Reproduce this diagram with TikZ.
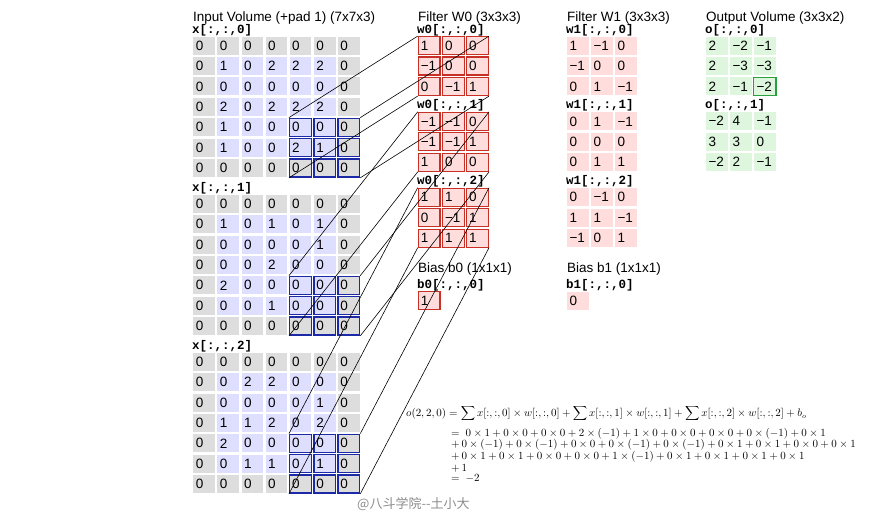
\documentclass[tikz,border=0pt]{standalone}
\usepackage[no-math]{fontspec}
\setmainfont{Liberation Sans}
\setmonofont{Liberation Mono}
\newfontfamily\cjkfont{Noto Sans CJK SC}
\definecolor{padgray}{RGB}{221,221,221}
\definecolor{inlav}{RGB}{222,222,255}
\definecolor{wpink}{RGB}{255,221,221}
\definecolor{wred}{RGB}{200,48,38}
\definecolor{xblue}{RGB}{28,42,168}
\definecolor{ogreen}{RGB}{222,246,222}
\definecolor{oline}{RGB}{40,160,60}
\begin{document}
\begin{tikzpicture}[
    x=1pt, y=-1pt,
    cell/.style={minimum width=21.7pt, minimum height=18pt, inner xsep=2.5pt,
      inner ysep=0pt, text width=16.7pt, align=left,
      font=\fontsize{13.5}{16}\selectfont},
    xcell/.style={cell, fill=padgray},
    wcell/.style={cell, fill=wpink, draw=wred, line width=1.2pt},
    vcell/.style={cell, fill=wpink},
    ocell/.style={cell, fill=ogreen},
    ttl/.style={anchor=base west, inner sep=0pt, font=\fontsize{13.5}{16}\selectfont},
    lbl/.style={anchor=base west, inner sep=0pt, font=\fontsize{12.5}{15}\ttfamily\bfseries},
    eq/.style={anchor=base west, inner sep=0pt, font=\fontsize{10.6}{12}\selectfont},
    link/.style={line width=0.6pt}
  ]
  \useasboundingbox (0,0) rectangle (876,516);

  % titles
  \node[ttl] (tx) at (193,21.5) {Input Volume (+pad 1) (7x7x3)};
  \node[ttl] (tw0) at (418,21.5) {Filter W0 (3x3x3)};
  \node[ttl] (tw1) at (567,21.5) {Filter W1 (3x3x3)};
  \node[ttl] (to) at (706,21.5) {Output Volume (3x3x2)};

  % input volume
  \foreach \xrows [count=\b from 0] in {
      {{0,0,0,0,0,0,0},{0,1,0,2,2,2,0},{0,0,0,0,0,0,0},{0,2,0,2,2,2,0},
       {0,1,0,0,0,0,0},{0,1,0,0,2,1,0},{0,0,0,0,0,0,0}},
      {{0,0,0,0,0,0,0},{0,1,0,1,0,1,0},{0,0,0,0,0,1,0},{0,0,0,2,0,0,0},
       {0,2,0,0,0,0,0},{0,0,0,1,0,0,0},{0,0,0,0,0,0,0}},
      {{0,0,0,0,0,0,0},{0,0,2,2,0,0,0},{0,0,0,0,0,1,0},{0,1,1,2,0,2,0},
       {0,2,0,0,0,0,0},{0,0,1,1,0,1,0},{0,0,0,0,0,0,0}}}{
    \pgfmathsetmacro\ytop{36.7+158*\b}
    \node[lbl] (xl\b) at (192,\ytop-3.5) {x[:,:,\b]};
    \foreach \xrow [count=\i from 0] in \xrows {
      \foreach \v [count=\j from 0] in \xrow {
        \pgfmathtruncatemacro\pad{or(or(\i==0,\i==6),or(\j==0,\j==6))}
        \pgfmathtruncatemacro\hl{and(\i>3,\j>3)}
        \ifnum\pad=1 \tikzset{xfill/.style={fill=padgray}}%
        \else \tikzset{xfill/.style={fill=inlav}}\fi
        \ifnum\hl=1 \tikzset{xedge/.style={draw=xblue, line width=1.4pt}}%
        \else \tikzset{xedge/.style={}}\fi
        \node[xcell, xfill, xedge] (x\b-\i-\j) at (204.15+24.1*\j, \ytop+9+20.4*\i) {\v};
      }
    }
  }

  % filter w0
  \foreach \xrows [count=\s from 0] in {
      {{1,0,0},{−1,0,0},{0,−1,1}},
      {{−1,−1,0},{−1,−1,1},{1,0,0}},
      {{1,1,0},{0,−1,1},{1,1,1}}}{
    \pgfmathsetmacro\ytop{36.7+75.8*\s}
    \node[lbl] (w0l\s) at (417,\ytop-3.5) {w0[:,:,\s]};
    \foreach \xrow [count=\i from 0] in \xrows
      \foreach \v [count=\j from 0] in \xrow
        \node[wcell] (w0-\s-\i-\j) at (429.15+24.2*\j, \ytop+9+20.4*\i) {\v};
  }

  % filter w1
  \foreach \xrows [count=\s from 0] in {
      {{1,−1,0},{−1,0,0},{0,1,−1}},
      {{0,1,−1},{0,0,0},{0,1,1}},
      {{0,−1,0},{1,1,−1},{−1,0,1}}}{
    \pgfmathsetmacro\ytop{36.7+75.8*\s}
    \node[lbl] (w1l\s) at (566,\ytop-3.5) {w1[:,:,\s]};
    \foreach \xrow [count=\i from 0] in \xrows
      \foreach \v [count=\j from 0] in \xrow
        \node[vcell] (w1-\s-\i-\j) at (577.85+24*\j, \ytop+9+20.4*\i) {\v};
  }

  % output volume
  \foreach \xrows [count=\s from 0] in {
      {{2,−2,−1},{2,−3,−3},{2,−1,−2}},
      {{−2,4,−1},{3,3,0},{−2,2,−1}}}{
    \pgfmathsetmacro\ytop{36.7+75.5*\s}
    \node[lbl] (ol\s) at (705,\ytop-3.5) {o[:,:,\s]};
    \foreach \xrow [count=\i from 0] in \xrows
      \foreach \v [count=\j from 0] in \xrow
        \node[ocell] (o-\s-\i-\j) at (716.85+24*\j, \ytop+9+20.4*\i) {\v};
  }
  \draw[oline, line width=1.3pt] (o-0-2-2.north west) rectangle (o-0-2-2.south east);

  % biases
  \node[ttl] (tb0) at (418,272.3) {Bias b0 (1x1x1)};
  \node[lbl] (b0l) at (417,288.3) {b0[:,:,0]};
  \node[wcell] (b0) at (429.15,300.7) {1};
  \node[ttl] (tb1) at (567,272.3) {Bias b1 (1x1x1)};
  \node[lbl] (b1l) at (566,288.3) {b1[:,:,0]};
  \node[vcell] (b1) at (577.85,300.7) {0};

  % receptive field to filter
  \foreach \s in {0,1,2} {
    \draw[link] (x\s-4-4.north west) -- (w0-\s-0-0.north west);
    \draw[link] (x\s-4-6.north east) -- (w0-\s-0-2.north east);
    \draw[link] (x\s-6-4.south west) -- (w0-\s-2-0.south west);
    \draw[link] (x\s-6-6.south east) -- (w0-\s-2-2.south east);
  }

  % worked sum
  \node[eq] (f1) at (406,416.5) {$o(2,2,0) = \displaystyle\sum x[{:},{:},0]\times w[{:},{:},0]
    + \sum x[{:},{:},1] \times w[{:},{:},1] + \sum x[{:},{:},2]\times w[{:},{:},2] + b_o$};
  \node[eq] (f2) at (451,436) {$=\ 0\times1 + 0\times0 + 0\times0 + 2\times(-1) + 1\times0
    + 0\times0 + 0\times0 + 0\times(-1) + 0\times1$};
  \node[eq] (f3) at (451,447.5) {$+\,0\times(-1) + 0\times(-1) + 0\times0 + 0\times(-1)
    + 0\times(-1) + 0\times1 + 0\times1 + 0\times0 + 0\times1$};
  \node[eq] (f4) at (451,459.5) {$+\,0\times1 + 0\times1 + 0\times0 + 0\times0 + 1\times(-1)
    + 0\times1 + 0\times1 + 0\times1 + 0\times1$};
  \node[eq] (f5) at (451,471) {$+\,1$};
  \node[eq] (f6) at (451,481) {$=\ -2$};

  \node[anchor=base west, inner sep=0pt, text=black!45,
    font=\cjkfont\fontsize{13}{15}\selectfont] (wm) at (357,508) {@八斗学院--土小大};
\end{tikzpicture}
\end{document}
